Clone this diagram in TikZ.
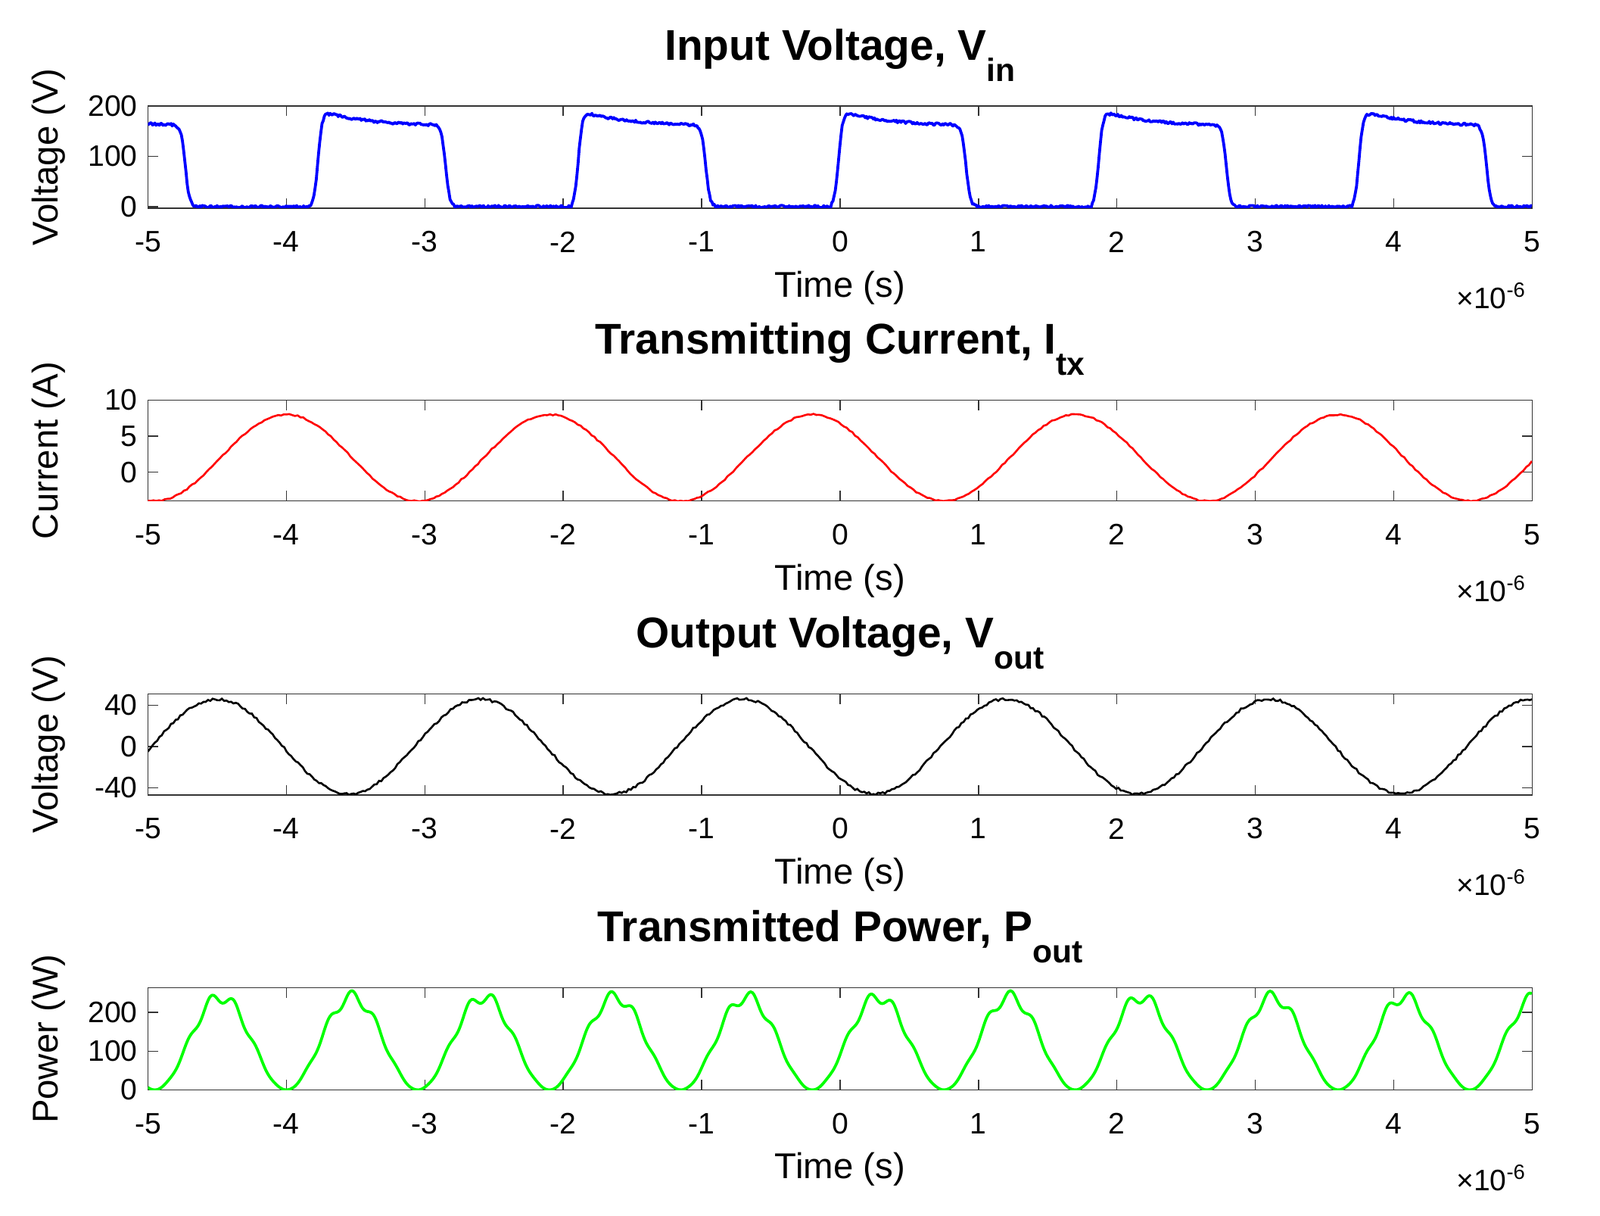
\documentclass[tikz,border=0pt]{standalone}
\usepackage{fontspec}
\setmainfont{Liberation Sans}
\begin{document}
\begin{tikzpicture}[
  ax/.style={line width=0.6pt,black!80},
  tl/.style={font=\fontsize{16.5}{16.5}\selectfont},
  lab/.style={font=\fontsize{20}{20}\selectfont},
  ttl/.style={font=\fontsize{24}{24}\selectfont\bfseries},
  declare function={
    vp(\t)=mod(\t+9.46,1.88);
    clampx(\x)=max(min(\x,9),-9);
    vin(\t)=(160+36*exp(-vp(\t)/0.35))/(1+exp(clampx(-(vp(\t)-0.05)/0.015)))/(1+exp(clampx((vp(\t)-0.97)/0.015)));
    cur(\t)=2+6*cos(360*(\t+4)/1.9);
    vout(\t)=46*cos(360*(\t+4.5)/1.9);
    pw(\t)=120*(1-cos(360*(\t+4)/0.95))+16*sin(360*\t/0.17)*(1-cos(360*(\t+4)/0.95))/2;
  }]
\useasboundingbox (0,-0.28) rectangle (31.37,23.55);
\newcommand\myframe[5]{% ymin ymax ticks ylabel title
  \draw[ax] (-5,#1) rectangle (5,#2);
  \foreach \tt in {-5,...,5}{
    \draw[ax] (\tt,#1) -- ++(0pt,5.6pt);
    \draw[ax] (\tt,#2) -- ++(0pt,-5.6pt);
    \node[tl] at (\tt,#1) [yshift=-0.66cm] {\tt};}
  \foreach \vv in {#3}{
    \draw[ax] (-5,\vv) -- ++(5.6pt,0pt);
    \draw[ax] (5,\vv) -- ++(-5.6pt,0pt);
    \node[tl,anchor=east] at (-5,\vv) [xshift=-0.08cm] {\vv};}
  \node[lab] at (0,#1) [yshift=-1.56cm] {Time (s)};
  \node[tl,anchor=east] at (5,#1) [yshift=-1.72cm] {×10\textsuperscript{-6}};
  \path (-5,{(#1+#2)/2}) ++(-1.95cm,0pt) node[lab,rotate=90] {#4};
  \node[ttl] at (0,#2) [yshift=1.0cm] {#5};
}
\newcommand\mysub[1]{\raisebox{-0.5em}{\fontsize{18}{18}\selectfont #1}}
% panel 1
\begin{scope}[shift={(16.47,19.5)},x=2.714cm,y=0.009852cm]
  \myframe{-3}{200}{0,100,200}{Voltage (V)}{Input Voltage, V\mysub{in}}
  \begin{scope}\clip (-5,-3) rectangle (5,200);
  \draw[blue,line width=1.6pt,line join=round] plot[domain=-5:5,samples=1200,variable=\t] (\t,{vin(\t)+2.5*rand});
  \end{scope}
\end{scope}
% panel 2
\begin{scope}[shift={(16.47,14.296)},x=2.714cm,y=0.1414cm]
  \myframe{-4}{10}{0,5,10}{Current (A)}{Transmitting Current, I\mysub{tx}}
  \begin{scope}\clip (-5,-4) rectangle (5,10);
  \draw[red,line width=1.1pt] plot[domain=-5:5,samples=500,variable=\t] (\t,{cur(\t)+0.1*rand});
  \end{scope}
\end{scope}
% panel 3
\begin{scope}[shift={(16.47,8.92)},x=2.714cm,y=0.0202cm]
  \myframe{-47}{51}{-40,0,40}{Voltage (V)}{Output Voltage, V\mysub{out}}
  \begin{scope}\clip (-5,-47) rectangle (5,51);
  \draw[black,line width=1.1pt] plot[domain=-5:5,samples=600,variable=\t] (\t,{vout(\t)+1.2*rand});
  \end{scope}
\end{scope}
% panel 4
\begin{scope}[shift={(16.47,2.19)},x=2.714cm,y=0.0076cm]
  \myframe{0}{263}{0,100,200}{Power (W)}{Transmitted Power, P\mysub{out}}
  \begin{scope}\clip (-5,0) rectangle (5,263);
  \draw[green,line width=1.6pt,line join=round] plot[domain=-5:5,samples=800,smooth,variable=\t] (\t,{pw(\t)});
  \end{scope}
\end{scope}
\end{tikzpicture}
\end{document}
